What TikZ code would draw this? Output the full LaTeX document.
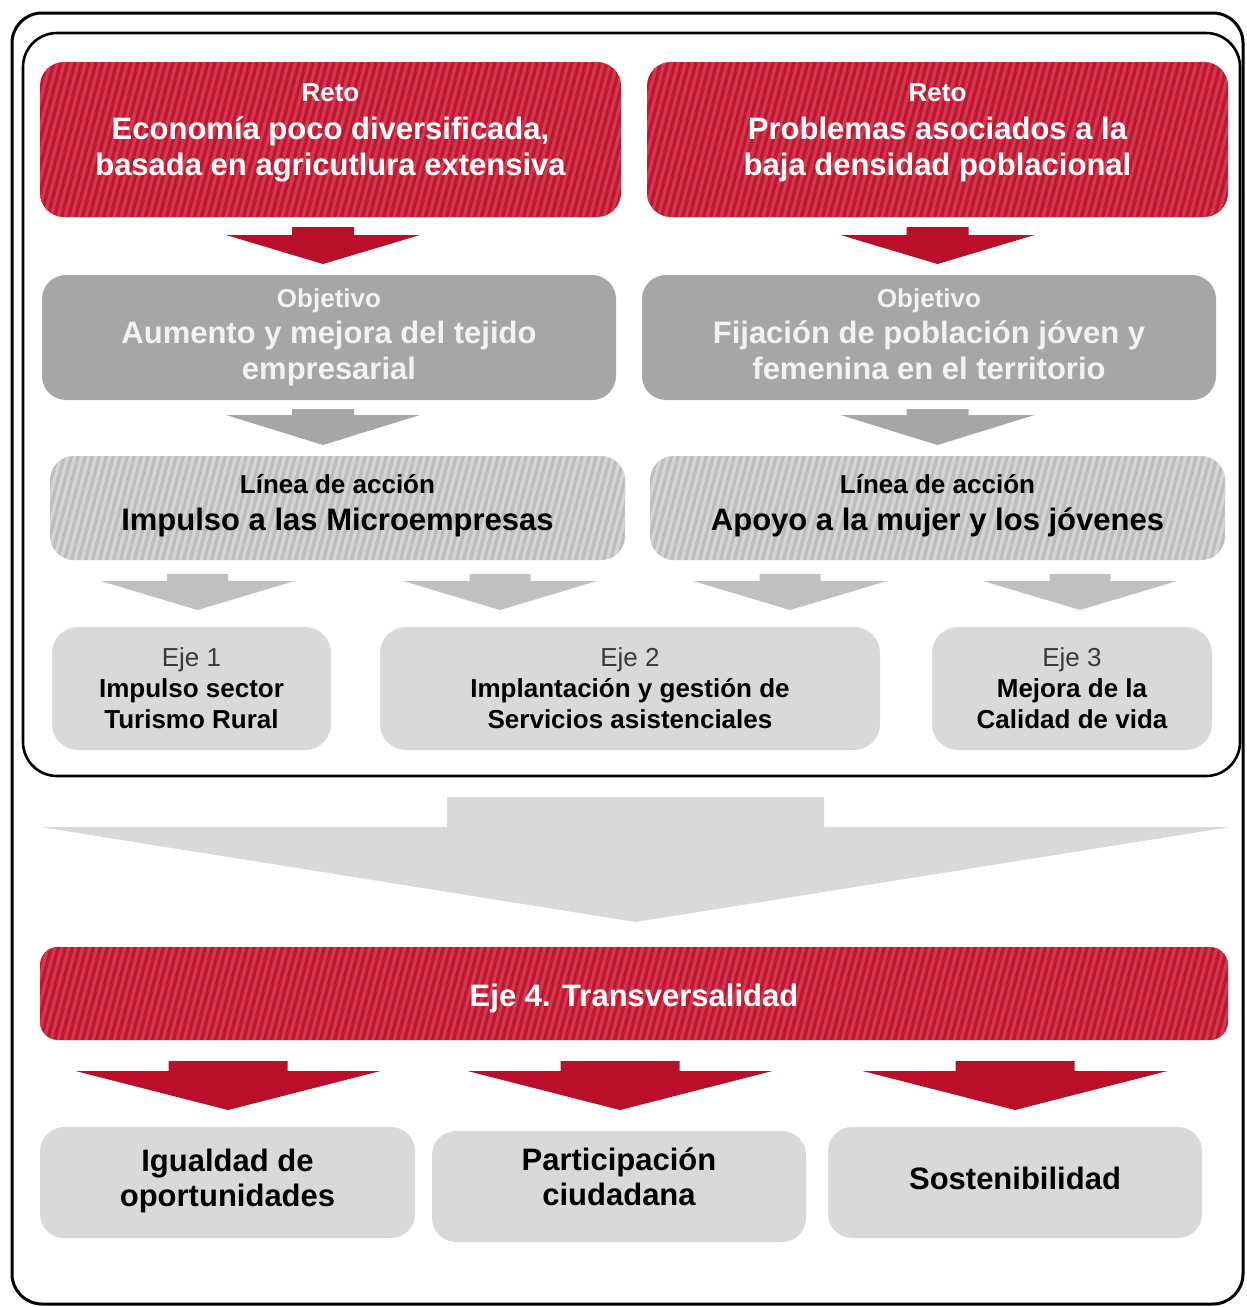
\documentclass[tikz,border=0pt]{standalone}
\usepackage{fontspec}
\setmainfont{Liberation Sans}

\definecolor{retored}{HTML}{C2152F}
\definecolor{retostripe}{HTML}{CF3A51}
\definecolor{arrowred}{HTML}{BA0F2A}
\definecolor{objgray}{HTML}{A6A6A6}
\definecolor{objtext}{HTML}{F2F2F2}
\definecolor{lineagray}{HTML}{BDBDBD}
\definecolor{lineastripe}{HTML}{D5D5D5}
\definecolor{smallgray}{HTML}{C0C0C0}
\definecolor{ejegray}{HTML}{D9D9D9}
\definecolor{ejetext}{HTML}{3A3A3A}

\newcommand{\lowstrut}[1][10pt]{\rule[-#1]{0pt}{0pt}}
\newcommand{\dnarrow}[7]{%
  \fill[#1] ({#2-#6},#3) -- ({#2+#6},#3) -- ({#2+#6},#4) -- ({#2+#7},#4)
    -- (#2,#5) -- ({#2-#7},#4) -- ({#2-#6},#4) -- cycle;}

\tikzset{
  stripes/.style={path picture={
      \foreach \s in {0,3.5,...,640}
        \draw[#1, line width=1.6pt] ([xshift=\s pt-40pt]path picture bounding box.south west) -- ++(75:170pt);}},
  box/.style={rectangle, rounded corners=12pt, inner sep=0pt, align=center},
  retobox/.style={box, fill=retored, stripes=retostripe, text=white,
    font=\bfseries\fontsize{15.5}{18}\selectfont},
  objbox/.style={box, fill=objgray, text=objtext,
    font=\bfseries\fontsize{15.5}{18}\selectfont},
  lineabox/.style={box, fill=lineagray, stripes=lineastripe, text=black,
    font=\bfseries\fontsize{15.5}{18.5}\selectfont},
  ejebox/.style={box, rounded corners=13pt, fill=ejegray, text=black,
    font=\bfseries\fontsize{13}{15.5}\selectfont},
  finbox/.style={box, fill=ejegray, text=black,
    font=\bfseries\fontsize{15.5}{17.5}\selectfont}
}

\begin{document}
\begin{tikzpicture}[x=0.5pt, y=-0.5pt]

	\useasboundingbox (0,0) rectangle (1247,1307);

	\draw[line width=1.5pt, rounded corners=15pt] (12,13) rectangle (1243,1304);
	\draw[line width=1.3pt, rounded corners=17pt] (23,33) rectangle (1240,776);

	\node[retobox, minimum width=290.5pt, minimum height=77.5pt] (reto1) at (330.5,139.5)
		{{\fontsize{13}{18}\selectfont Reto}\\[1pt] Economía poco diversificada,\\ basada en agricutlura extensiva\lowstrut};
	\node[retobox, minimum width=290.5pt, minimum height=77.5pt] (reto2) at (937.5,139.5)
		{{\fontsize{13}{18}\selectfont Reto}\\[1pt] Problemas asociados a la\\ baja densidad poblacional\lowstrut};

	\dnarrow{arrowred}{323}{227}{235}{264}{31}{97}
	\dnarrow{arrowred}{937.5}{227}{235}{264}{31}{97}

	\node[objbox, minimum width=287pt, minimum height=62.5pt] (obj1) at (329,337.5)
		{{\fontsize{13}{18}\selectfont Objetivo}\\ Aumento y mejora del tejido\\ empresarial};
	\node[objbox, minimum width=287pt, minimum height=62.5pt] (obj2) at (929,337.5)
		{{\fontsize{13}{18}\selectfont Objetivo}\\ Fijación de población jóven y\\ femenina en el territorio\lowstrut[3.3pt]};

	\dnarrow{objgray}{323}{409}{415}{445}{31}{97}
	\dnarrow{objgray}{937.5}{409}{415}{445}{31}{97}

	\node[lineabox, minimum width=287.5pt, minimum height=52pt] (linea1) at (337.5,508)
		{{\fontsize{13}{18.5}\selectfont Línea de acción}\\ Impulso a las Microempresas\lowstrut[6pt]};
	\node[lineabox, minimum width=287.5pt, minimum height=52pt] (linea2) at (937.5,508)
		{{\fontsize{13}{18.5}\selectfont Línea de acción}\\ Apoyo a la mujer y los jóvenes\lowstrut[6pt]};

	\foreach \cx in {197.5,500,790,1080}
		{\dnarrow{smallgray}{\cx}{574}{581}{610}{30.5}{97}}

	\node[ejebox, minimum width=139.5pt, minimum height=61.5pt] (eje1) at (191.5,688.5)
		{{\mdseries\color{ejetext} Eje 1}\\ Impulso sector\\ Turismo Rural};
	\node[ejebox, minimum width=250pt, minimum height=61.5pt] (eje2) at (630,688.5)
		{{\mdseries\color{ejetext} Eje 2}\\ Implantación y gestión de\\ Servicios asistenciales};
	\node[ejebox, minimum width=140pt, minimum height=61.5pt] (eje3) at (1072,688.5)
		{{\mdseries\color{ejetext} Eje 3}\\ Mejora de la\\ Calidad de vida};

	\dnarrow{ejegray}{635.5}{797}{827}{922}{188.5}{595}

	\node[retobox, rounded corners=9pt, minimum width=594pt, minimum height=46.5pt] (eje4) at (634,993.5)
		{\rule{0pt}{16pt}Eje 4. Transversalidad};

	\foreach \cx in {228,620,1015}
		{\dnarrow{arrowred}{\cx}{1061}{1071}{1110}{59.5}{152.5}}

	\node[finbox, minimum width=187.5pt, minimum height=55.5pt] (igualdad) at (227.5,1182.5)
		{Igualdad de\\ oportunidades\lowstrut[5pt]};
	\node[finbox, minimum width=187pt, minimum height=55.5pt] (participacion) at (619,1186.5)
		{Participación\\ ciudadana\lowstrut};
	\node[finbox, minimum width=187pt, minimum height=55.5pt] (sostenibilidad) at (1015,1182.5)
		{Sostenibilidad\lowstrut[4pt]};

\end{tikzpicture}
\end{document}
